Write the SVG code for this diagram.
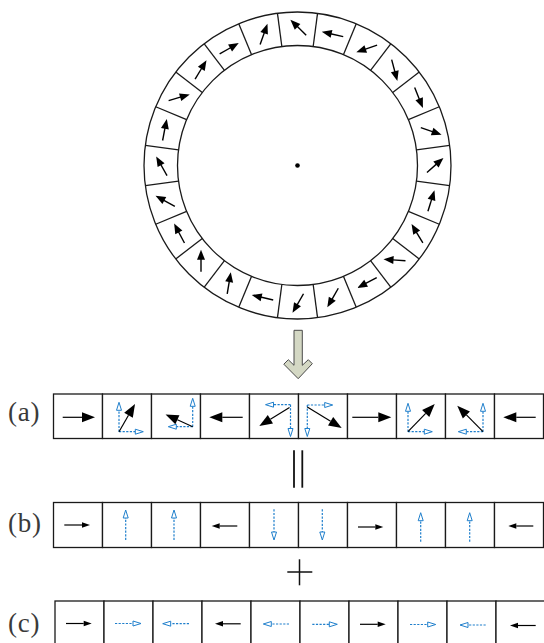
<svg xmlns="http://www.w3.org/2000/svg" xmlns:xlink="http://www.w3.org/1999/xlink" width="544" height="643" viewBox="0 0 544 643">
  <style>
    .frame { fill: none; stroke: #1a1a1a; stroke-width: 1.3; }
    .cell { fill: #ffffff; stroke: #1a1a1a; stroke-width: 1.3; }
    .spin { stroke: #000; stroke-width: 1.4; fill: none; }
    .big { stroke: #000; stroke-width: 1.2; fill: none; marker-end: url(#headA); }
    .small { stroke: #000; stroke-width: 1.2; fill: none; marker-end: url(#headS); }
    .comp { stroke: #1f7fcc; stroke-width: 1.2; stroke-dasharray: 2.2 1.4; fill: none; marker-end: url(#headB); }
    .label { font-family: "Liberation Serif", "Times New Roman", serif; font-size: 27px; letter-spacing: 0.8px; fill: #3a3a3a; }
  </style>
  <defs>
    <!-- filled head for the row (a) arrows -->
    <marker id="headA" markerUnits="userSpaceOnUse" orient="auto" refX="0" refY="0" markerWidth="14" markerHeight="12" style="overflow:visible">
      <path d="M0,-5 L13,0 L0,5 Z" fill="#000"/>
    </marker>
    <!-- small filled head for rows (b) and (c) -->
    <marker id="headS" markerUnits="userSpaceOnUse" orient="auto" refX="0" refY="0" markerWidth="10" markerHeight="8" style="overflow:visible">
      <path d="M0,-2.8 L8,0 L0,2.8 Z" fill="#000"/>
    </marker>
    <!-- open blue head for the dashed components -->
    <marker id="headB" markerUnits="userSpaceOnUse" orient="auto" refX="0" refY="0" markerWidth="10" markerHeight="8" style="overflow:visible">
      <path d="M0,-2.5 L8,0 L0,2.5 Z" fill="#fff" stroke="#1f7fcc" stroke-width="1"/>
    </marker>
    <!-- spin arrow used in the ring, centred on the origin, pointing along +x -->
    <g id="ringArrow">
      <line class="spin" x1="-11" y1="0" x2="2" y2="0"/>
      <path d="M1,-4 L11,0 L1,4 Z" fill="#000"/>
    </g>
  </defs>

  <!-- ring of 24 cells -->
  <g id="ring">
    <circle class="frame" cx="297.5" cy="165.5" r="153.5"/>
    <circle class="frame" cx="297.5" cy="165.5" r="120"/>
    <g class="frame">
      <line x1="297.5" y1="45.5" x2="297.5" y2="12" transform="rotate(7.5 297.5 165.5)"/>
      <line x1="297.5" y1="45.5" x2="297.5" y2="12" transform="rotate(22.5 297.5 165.5)"/>
      <line x1="297.5" y1="45.5" x2="297.5" y2="12" transform="rotate(37.5 297.5 165.5)"/>
      <line x1="297.5" y1="45.5" x2="297.5" y2="12" transform="rotate(52.5 297.5 165.5)"/>
      <line x1="297.5" y1="45.5" x2="297.5" y2="12" transform="rotate(67.5 297.5 165.5)"/>
      <line x1="297.5" y1="45.5" x2="297.5" y2="12" transform="rotate(82.5 297.5 165.5)"/>
      <line x1="297.5" y1="45.5" x2="297.5" y2="12" transform="rotate(97.5 297.5 165.5)"/>
      <line x1="297.5" y1="45.5" x2="297.5" y2="12" transform="rotate(112.5 297.5 165.5)"/>
      <line x1="297.5" y1="45.5" x2="297.5" y2="12" transform="rotate(127.5 297.5 165.5)"/>
      <line x1="297.5" y1="45.5" x2="297.5" y2="12" transform="rotate(142.5 297.5 165.5)"/>
      <line x1="297.5" y1="45.5" x2="297.5" y2="12" transform="rotate(157.5 297.5 165.5)"/>
      <line x1="297.5" y1="45.5" x2="297.5" y2="12" transform="rotate(172.5 297.5 165.5)"/>
      <line x1="297.5" y1="45.5" x2="297.5" y2="12" transform="rotate(187.5 297.5 165.5)"/>
      <line x1="297.5" y1="45.5" x2="297.5" y2="12" transform="rotate(202.5 297.5 165.5)"/>
      <line x1="297.5" y1="45.5" x2="297.5" y2="12" transform="rotate(217.5 297.5 165.5)"/>
      <line x1="297.5" y1="45.5" x2="297.5" y2="12" transform="rotate(232.5 297.5 165.5)"/>
      <line x1="297.5" y1="45.5" x2="297.5" y2="12" transform="rotate(247.5 297.5 165.5)"/>
      <line x1="297.5" y1="45.5" x2="297.5" y2="12" transform="rotate(262.5 297.5 165.5)"/>
      <line x1="297.5" y1="45.5" x2="297.5" y2="12" transform="rotate(277.5 297.5 165.5)"/>
      <line x1="297.5" y1="45.5" x2="297.5" y2="12" transform="rotate(292.5 297.5 165.5)"/>
      <line x1="297.5" y1="45.5" x2="297.5" y2="12" transform="rotate(307.5 297.5 165.5)"/>
      <line x1="297.5" y1="45.5" x2="297.5" y2="12" transform="rotate(322.5 297.5 165.5)"/>
      <line x1="297.5" y1="45.5" x2="297.5" y2="12" transform="rotate(337.5 297.5 165.5)"/>
      <line x1="297.5" y1="45.5" x2="297.5" y2="12" transform="rotate(352.5 297.5 165.5)"/>
    </g>
    <circle cx="297.5" cy="165.5" r="2.3" fill="#000"/>
    <!-- spins, clockwise from the top cell -->
    <use xlink:href="#ringArrow" transform="translate(298.3 27.5) rotate(224)"/>
    <use xlink:href="#ringArrow" transform="translate(332.5 34.2) rotate(193)"/>
    <use xlink:href="#ringArrow" transform="translate(366.7 48.7) rotate(161)"/>
    <use xlink:href="#ringArrow" transform="translate(394.5 70.3) rotate(75)"/>
    <use xlink:href="#ringArrow" transform="translate(418.8 97.8) rotate(68)"/>
    <use xlink:href="#ringArrow" transform="translate(431.2 131.2) rotate(19)"/>
    <use xlink:href="#ringArrow" transform="translate(435.2 165.2) rotate(-41.5)"/>
    <use xlink:href="#ringArrow" transform="translate(431.2 200.8) rotate(-72.7)"/>
    <use xlink:href="#ringArrow" transform="translate(417.2 233.5) rotate(-121)"/>
    <use xlink:href="#ringArrow" transform="translate(394.5 260) rotate(-176.4)"/>
    <use xlink:href="#ringArrow" transform="translate(367 282.8) rotate(152)"/>
    <use xlink:href="#ringArrow" transform="translate(332.8 297.8) rotate(120)"/>
    <use xlink:href="#ringArrow" transform="translate(298 303.3) rotate(120)"/>
    <use xlink:href="#ringArrow" transform="translate(262.5 297.5) rotate(-167)"/>
    <use xlink:href="#ringArrow" transform="translate(229 283) rotate(-80.6)"/>
    <use xlink:href="#ringArrow" transform="translate(201 260.8) rotate(-90)"/>
    <use xlink:href="#ringArrow" transform="translate(179.3 233.3) rotate(-118)"/>
    <use xlink:href="#ringArrow" transform="translate(165.2 201) rotate(-151.3)"/>
    <use xlink:href="#ringArrow" transform="translate(161.6 166) rotate(-119.5)"/>
    <use xlink:href="#ringArrow" transform="translate(164.7 129.7) rotate(-79)"/>
    <use xlink:href="#ringArrow" transform="translate(179.2 97.5) rotate(-16.4)"/>
    <use xlink:href="#ringArrow" transform="translate(200.8 69.7) rotate(-58.8)"/>
    <use xlink:href="#ringArrow" transform="translate(229.2 48.5) rotate(-29.7)"/>
    <use xlink:href="#ringArrow" transform="translate(263.8 34.2) rotate(-70.5)"/>
  </g>

  <!-- block arrow from the ring down to the chain -->
  <g id="connectors">
    <path d="M294,330.3 L302.3,330.3 L302.3,365.3 L308.3,359.7 L312.3,363.7 L298.2,378.7 L283.8,364.2 L288.3,359.7 L294,365.3 Z" fill="#d4d8c4" stroke="#4a4a4a" stroke-width="1"/>
  </g>

  <!-- row (a): full spins with their dashed components -->
  <g id="row-a">
    <text class="label" x="8" y="421">(a)</text>
    <g id="a0"><rect class="cell" x="53.5" y="394" width="49" height="44.5"/>
      <line class="big" x1="62.7" y1="417.3" x2="82" y2="417.3"/></g>
    <g id="a1"><rect class="cell" x="102.5" y="394" width="49" height="44.5"/>
      <line class="comp" x1="119" y1="431.7" x2="119" y2="410.3"/>
      <line class="comp" x1="119" y1="431.7" x2="135.3" y2="431.7"/>
      <line class="big" x1="119" y1="431.7" x2="128.5" y2="415.3"/></g>
    <g id="a2"><rect class="cell" x="151.5" y="394" width="49" height="44.5"/>
      <line class="comp" x1="192.7" y1="426.7" x2="192.7" y2="406.3"/>
      <line class="comp" x1="192.7" y1="426.7" x2="176.3" y2="426.7"/>
      <line class="big" x1="192.7" y1="426.7" x2="177.4" y2="419.8"/></g>
    <g id="a3"><rect class="cell" x="200.5" y="394" width="49" height="44.5"/>
      <line class="big" x1="242.7" y1="417.3" x2="222.3" y2="417.3"/></g>
    <g id="a4"><rect class="cell" x="249.5" y="394" width="49" height="44.5"/>
      <line class="comp" x1="290.5" y1="404.7" x2="273.5" y2="404.7"/>
      <line class="comp" x1="290.5" y1="404.7" x2="290.5" y2="428.5"/>
      <line class="big" x1="289.5" y1="407.5" x2="270.4" y2="419.2"/></g>
    <g id="a5"><rect class="cell" x="298.5" y="394" width="49" height="44.5"/>
      <line class="comp" x1="307.3" y1="405" x2="324.7" y2="405"/>
      <line class="comp" x1="307.3" y1="405" x2="307.3" y2="428.5"/>
      <line class="big" x1="307.3" y1="407" x2="330.6" y2="421.2"/></g>
    <g id="a6"><rect class="cell" x="347.5" y="394" width="49" height="44.5"/>
      <line class="big" x1="352.3" y1="417.3" x2="378.3" y2="417.3"/></g>
    <g id="a7"><rect class="cell" x="396.5" y="394" width="49" height="44.5"/>
      <line class="comp" x1="408" y1="431.7" x2="408" y2="411.3"/>
      <line class="comp" x1="408" y1="431.7" x2="424.3" y2="431.7"/>
      <line class="big" x1="408" y1="431.7" x2="425.7" y2="413.4"/></g>
    <g id="a8"><rect class="cell" x="445.5" y="394" width="49" height="44.5"/>
      <line class="comp" x1="483" y1="431.7" x2="483" y2="411.3"/>
      <line class="comp" x1="483" y1="431.7" x2="466.3" y2="431.7"/>
      <line class="big" x1="483" y1="431.7" x2="466.4" y2="414.9"/></g>
    <g id="a9"><rect class="cell" x="494.5" y="394" width="49" height="44.5"/>
      <line class="big" x1="535.7" y1="417.3" x2="516.3" y2="417.3"/></g>
  </g>

  <!-- equals sign -->
  <g id="equals" stroke="#111" stroke-width="1.8">
    <line x1="294" y1="450.3" x2="294" y2="487.7"/>
    <line x1="302.3" y1="450.3" x2="302.3" y2="487.7"/>
  </g>

  <!-- row (b): transverse part -->
  <g id="row-b">
    <text class="label" x="8" y="532">(b)</text>
    <g id="b0"><rect class="cell" x="53.5" y="502.5" width="49" height="45"/>
      <line class="small" x1="64.3" y1="525" x2="82" y2="525"/></g>
    <g id="b1"><rect class="cell" x="102.5" y="502.5" width="49" height="45"/>
      <line class="comp" x1="125.7" y1="540" x2="125.7" y2="518"/></g>
    <g id="b2"><rect class="cell" x="151.5" y="502.5" width="49" height="45"/>
      <line class="comp" x1="174" y1="540" x2="174" y2="518"/></g>
    <g id="b3"><rect class="cell" x="200.5" y="502.5" width="49" height="45"/>
      <line class="small" x1="237.3" y1="526" x2="219.7" y2="526"/></g>
    <g id="b4"><rect class="cell" x="249.5" y="502.5" width="49" height="45"/>
      <line class="comp" x1="274" y1="509.3" x2="274" y2="532"/></g>
    <g id="b5"><rect class="cell" x="298.5" y="502.5" width="49" height="45"/>
      <line class="comp" x1="322.3" y1="509.3" x2="322.3" y2="532"/></g>
    <g id="b6"><rect class="cell" x="347.5" y="502.5" width="49" height="45"/>
      <line class="small" x1="358" y1="527" x2="375.3" y2="527"/></g>
    <g id="b7"><rect class="cell" x="396.5" y="502.5" width="49" height="45"/>
      <line class="comp" x1="420.7" y1="541.7" x2="420.7" y2="520.7"/></g>
    <g id="b8"><rect class="cell" x="445.5" y="502.5" width="49" height="45"/>
      <line class="comp" x1="469.7" y1="541.7" x2="469.7" y2="520.7"/></g>
    <g id="b9"><rect class="cell" x="494.5" y="502.5" width="49" height="45"/>
      <line class="small" x1="533.3" y1="526" x2="516.3" y2="526"/></g>
  </g>

  <!-- plus sign -->
  <g id="plus" stroke="#111" stroke-width="1.5">
    <line x1="287.3" y1="572" x2="312.3" y2="572"/>
    <line x1="299.5" y1="559.3" x2="299.5" y2="585.3"/>
  </g>

  <!-- row (c): longitudinal part -->
  <g id="row-c">
    <text class="label" x="8" y="632">(c)</text>
    <g id="c0"><rect class="cell" x="55" y="601" width="49" height="46"/>
      <line class="small" x1="66" y1="623.5" x2="83.7" y2="623.5"/></g>
    <g id="c1"><rect class="cell" x="104" y="601" width="49" height="46"/>
      <line class="comp" x1="115" y1="623.5" x2="133" y2="623.5"/></g>
    <g id="c2"><rect class="cell" x="153" y="601" width="49" height="46"/>
      <line class="comp" x1="189" y1="623.7" x2="170.7" y2="623.7"/></g>
    <g id="c3"><rect class="cell" x="202" y="601" width="49" height="46"/>
      <line class="small" x1="240.7" y1="623.8" x2="223" y2="623.8"/></g>
    <g id="c4"><rect class="cell" x="251" y="601" width="49" height="46"/>
      <line class="comp" x1="289" y1="624" x2="271.3" y2="624"/></g>
    <g id="c5"><rect class="cell" x="300" y="601" width="49" height="46"/>
      <line class="comp" x1="312.3" y1="624.3" x2="329.3" y2="624.3"/></g>
    <g id="c6"><rect class="cell" x="349" y="601" width="49" height="46"/>
      <line class="small" x1="360" y1="624.3" x2="377.7" y2="624.3"/></g>
    <g id="c7"><rect class="cell" x="398" y="601" width="49" height="46"/>
      <line class="comp" x1="410" y1="624.5" x2="427.7" y2="624.5"/></g>
    <g id="c8"><rect class="cell" x="447" y="601" width="49" height="46"/>
      <line class="comp" x1="485.7" y1="625" x2="468" y2="625"/></g>
    <g id="c9"><rect class="cell" x="496" y="601" width="49" height="46"/>
      <line class="small" x1="535.7" y1="625.5" x2="518" y2="625.5"/></g>
  </g>
</svg>
